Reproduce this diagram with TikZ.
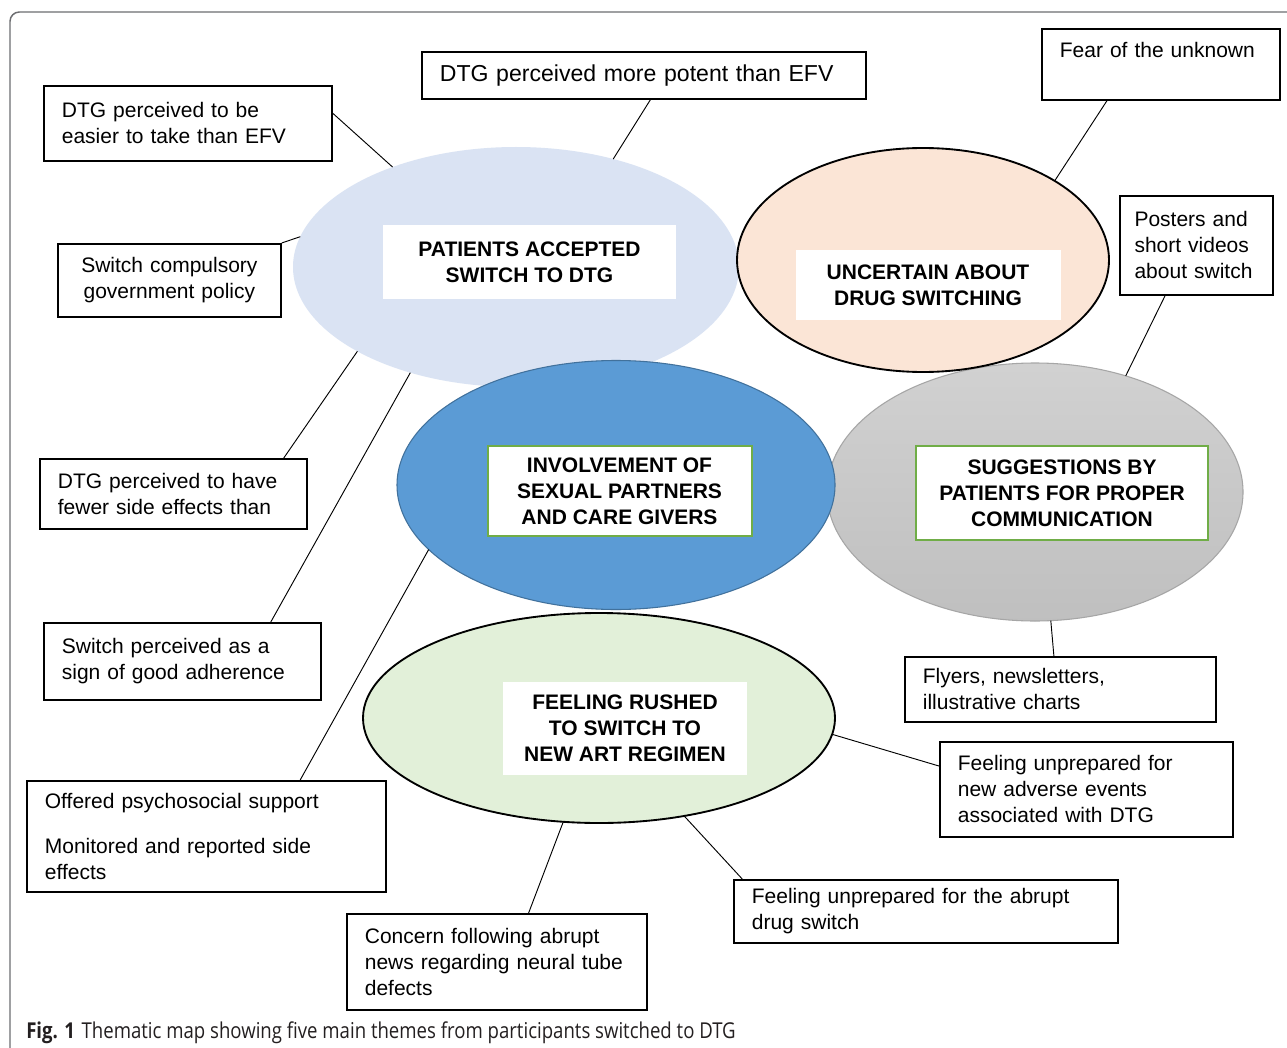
\documentclass[tikz,border=0pt]{standalone}
\usepackage{fontspec}
\setmainfont{Liberation Sans}
\newfontfamily\capfont[FakeStretch=0.85]{Open Sans}
\usetikzlibrary{shapes.geometric}
\newlength\px \setlength\px{0.75pt}
\definecolor{accblue}{HTML}{DAE3F3}
\definecolor{uncpeach}{HTML}{FBE5D6}
\definecolor{invblue}{HTML}{5B9BD5}
\definecolor{invedge}{HTML}{41719C}
\definecolor{rushgreen}{HTML}{E2F0D9}
\definecolor{labelgreen}{HTML}{70AD47}
\definecolor{framegray}{HTML}{6D6E71}
\definecolor{captext}{HTML}{231F20}
\tikzset{
  theme/.style={ellipse, inner sep=0pt, outer sep=0pt},
  themelabel/.style={fill=white, align=center, font=\fontsize{15.75pt}{19.5pt}\selectfont\bfseries, inner sep=0pt},
  ideabox/.style={draw, line width=1.3pt, anchor=north west, align=left, inner xsep=13.5pt, inner ysep=0pt},
  link/.style={line width=0.7pt},
}
\begin{document}
\begin{tikzpicture}[x=0.75pt, y=-0.75pt, font=\fontsize{15.75pt}{19.5pt}\selectfont]
  \useasboundingbox (0,0) rectangle (1287,1048);
  \clip (0,0) rectangle (1287,1048);
  \fill[white] (0,0) rectangle (1287,1048);
  \draw[framegray, line width=1.1pt, rounded corners=7pt] (1320,12) -- (10,12) -- (10,1080);
  % themes
  \node(acc)[theme, minimum width=446\px, minimum height=240\px, fill=accblue] at (516,267) {};
  \node(sug)[theme, minimum width=416\px, minimum height=258\px, top color=gray!36, bottom color=gray!50, draw=gray!70, line width=0.8pt] at (1035,492) {};
  \node(unc)[theme, minimum width=372\px, minimum height=224\px, fill=uncpeach, draw, line width=1.4pt] at (923,260) {};
  \node(inv)[theme, minimum width=438\px, minimum height=249\px, fill=invblue, draw=invedge, line width=0.8pt] at (616,485) {};
  \node(rush)[theme, minimum width=472\px, minimum height=210\px, fill=rushgreen, draw, line width=1.4pt] at (599,718) {};
  \node(accL)[themelabel, minimum width=293\px, minimum height=74\px] at (529.5,262) {PATIENTS ACCEPTED\\SWITCH TO DTG};
  \node(uncL)[themelabel, minimum width=265\px, minimum height=69\px] at (928,285) {UNCERTAIN ABOUT\\DRUG SWITCHING};
  \node(invL)[themelabel, minimum width=264\px, minimum height=90\px, draw=labelgreen, line width=1.5pt] at (619.5,491) {INVOLVEMENT OF\\SEXUAL PARTNERS\\AND CARE GIVERS};
  \node(sugL)[themelabel, minimum width=292\px, minimum height=94\px, draw=labelgreen, line width=1.5pt] at (1062,493) {SUGGESTIONS BY\\PATIENTS FOR PROPER\\COMMUNICATION};
  \node(rushL)[themelabel, minimum width=244\px, minimum height=93\px] at (625,728.5) {FEELING RUSHED\\TO SWITCH TO\\NEW ART REGIMEN};
  % boxes
  \node(easy)[ideabox, text width=252\px, minimum height=75\px] at (43,85) {DTG perceived to be\\easier to take than EFV};
  \node(potent)[ideabox, text width=408\px, minimum height=47\px, font=\fontsize{17.3pt}{21pt}\selectfont] at (421,51) {DTG perceived more potent than EFV};
  \node(fear)[ideabox, text width=202\px, minimum height=71\px, text depth=28\px] at (1041,28) {Fear of the unknown};
  \node(comp)[ideabox, text width=187\px, minimum height=73\px, align=center] at (57,243) {Switch compulsory\\government policy};
  \node(post)[ideabox, text width=124\px, minimum height=99\px, inner xsep=11pt] at (1119,195) {Posters and\\short videos\\about switch};
  \node(few)[ideabox, text width=231\px, minimum height=70\px] at (39,458) {DTG perceived to have\\fewer side effects than};
  \node(adh)[ideabox, text width=241\px, minimum height=77\px] at (43,622) {Switch perceived as a\\sign of good adherence};
  \node(fly)[ideabox, text width=275\px, minimum height=65\px] at (904,656) {Flyers, newsletters,\\illustrative charts};
  \node(psy)[ideabox, text width=323\px, minimum height=111\px] at (26,780) {Offered psychosocial support\\[14pt]Monitored and reported side\\effects};
  \node(adv)[ideabox, text width=257\px, minimum height=95\px] at (939,741) {Feeling unprepared for\\new adverse events\\associated with DTG};
  \node(abr)[ideabox, text width=348\px, minimum height=63\px] at (733,879) {Feeling unprepared for the abrupt\\drug switch};
  \node(con)[ideabox, text width=264\px, minimum height=96\px] at (346,913) {Concern following abrupt\\news regarding neural tube\\defects};
  % links
  \draw[link] (easy.4) -- (acc.141);
  \draw[link] (potent.285) -- (acc.48);
  \draw[link] (comp.north east) -- (acc.172);
  \draw[link] (few.18) -- (acc.208);
  \draw[link] (adh.24) -- (acc.225);
  \draw[link] (fear.214) -- (unc.31);
  \draw[link] (post.238) -- (sug.52);
  \draw[link] (sug.277) -- (fly.101);
  \draw[link] (psy.31) -- (inv.199);
  \draw[link] (rush.356) -- (adv.171);
  \draw[link] (rush.311) -- (abr.170);
  \draw[link] (rush.251) -- (con.57);
  % caption
  \node(cap)[anchor=base west, inner sep=0pt, text=captext, font=\capfont\fontsize{16.4pt}{19pt}\selectfont] at (26,1038) {\textbf{Fig. 1}\hspace{5pt}Thematic map showing five main themes from participants switched to DTG};
\end{tikzpicture}
\end{document}
